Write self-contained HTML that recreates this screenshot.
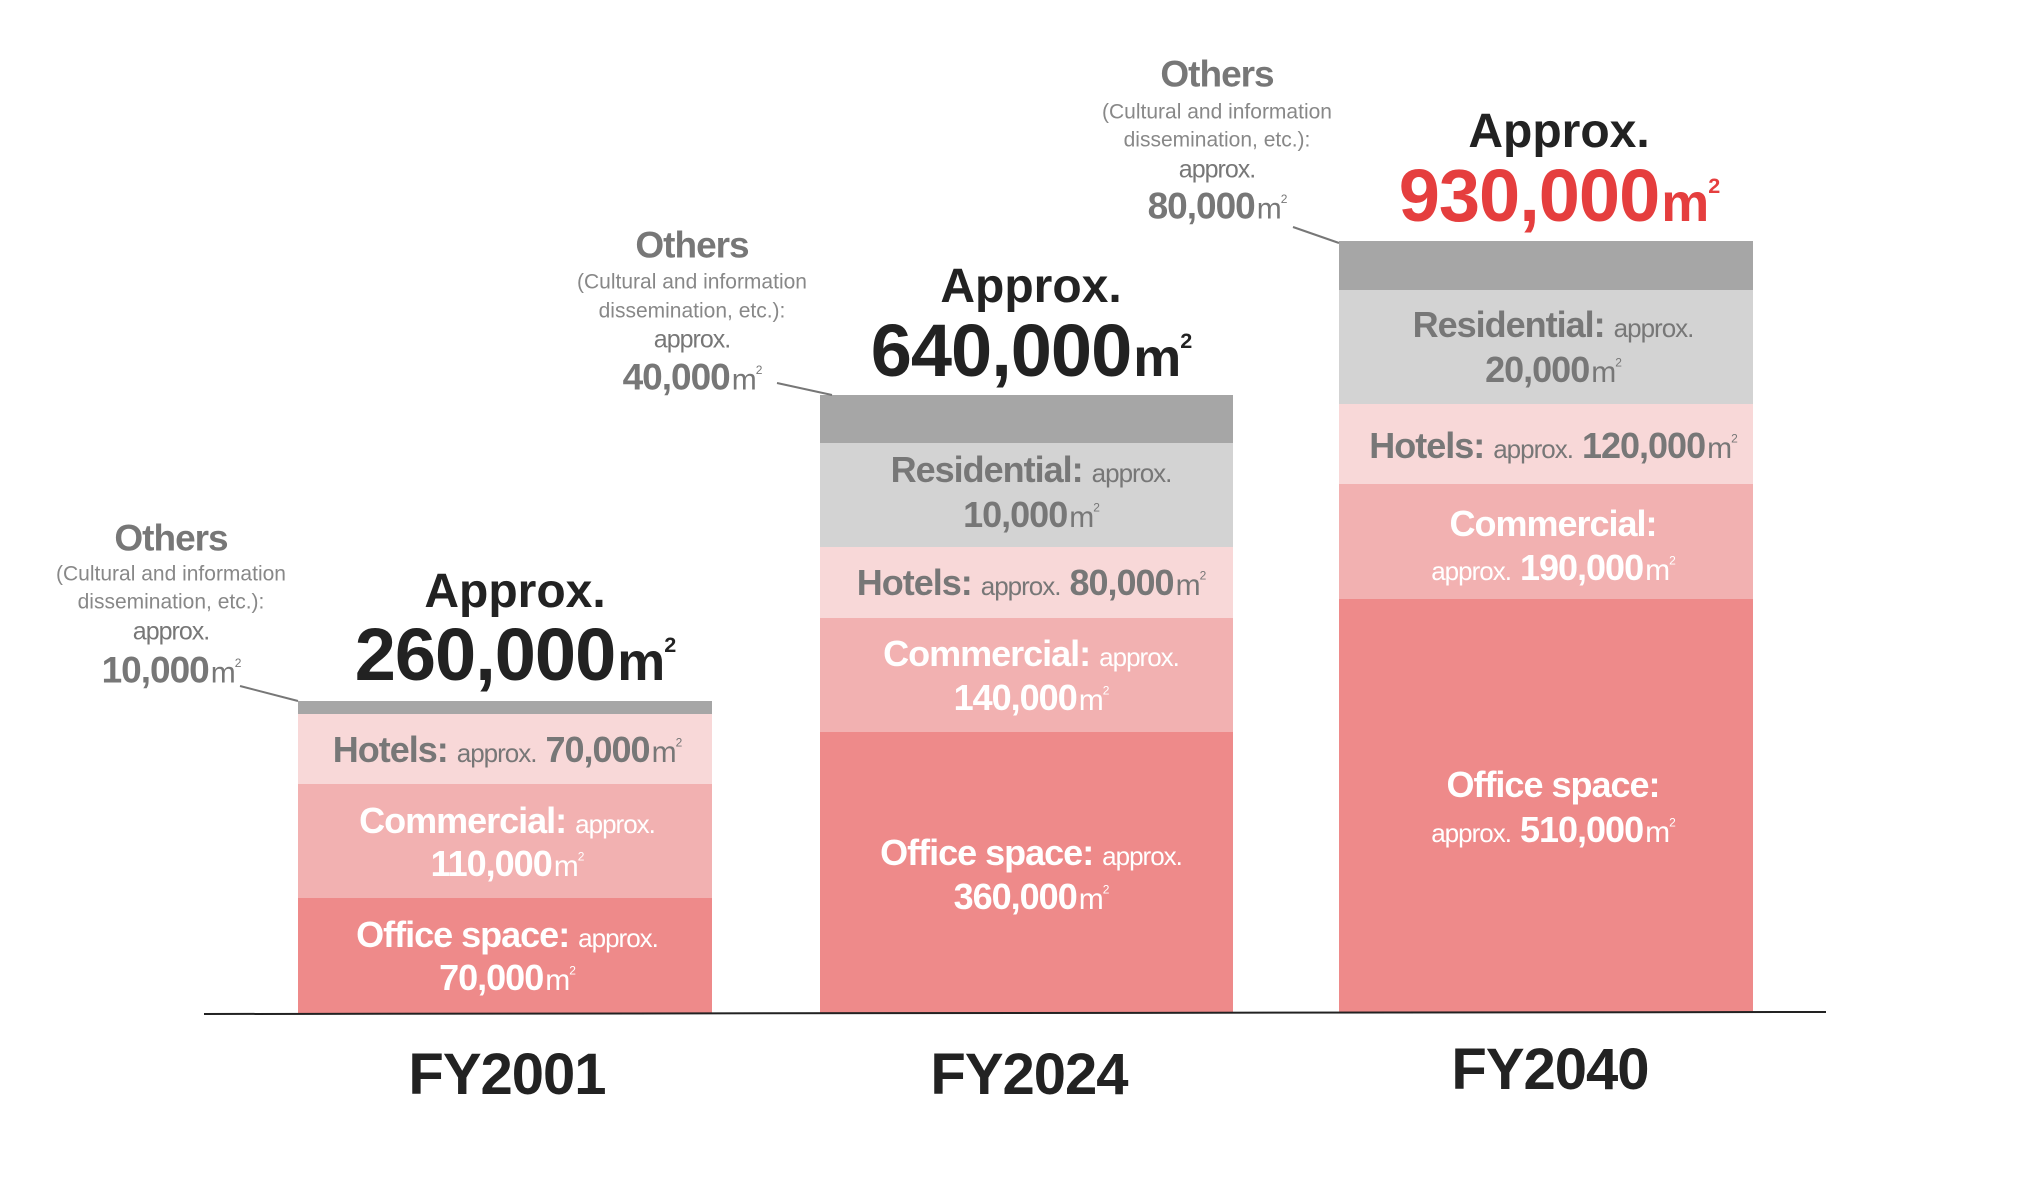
<!DOCTYPE html>
<html><head><meta charset="utf-8">
<style>
html,body{margin:0;padding:0;background:#fff;}
body{width:2038px;height:1199px;position:relative;overflow:hidden;font-family:"Liberation Sans",sans-serif;}
.b{position:absolute;}
.t{position:absolute;transform:translate(-50%,-50%);white-space:nowrap;text-align:center;line-height:1;letter-spacing:-1px;}
.g{color:#777;}
.w{color:#fff;}
.bo{font-weight:bold;}
.ap{font-weight:normal;font-size:26px;}
.u{font-weight:normal;margin-left:2px;}
sup{font-size:40%;vertical-align:1.3em;line-height:0;}
.lab{font-size:36px;font-weight:bold;}
.sm{font-size:21px;color:#888;letter-spacing:0;}
</style></head><body>
<!-- bars -->
<div class="b" style="left:298px;top:701px;width:414px;height:13px;background:#a6a6a6"></div>
<div class="b" style="left:298px;top:714px;width:414px;height:70px;background:#f8d8d8"></div>
<div class="b" style="left:298px;top:784px;width:414px;height:114px;background:#f2b1b1"></div>
<div class="b" style="left:298px;top:898px;width:414px;height:115px;background:#ee8a8a"></div>

<div class="b" style="left:820px;top:395px;width:413px;height:48px;background:#a6a6a6"></div>
<div class="b" style="left:820px;top:443px;width:413px;height:104px;background:#d3d3d3"></div>
<div class="b" style="left:820px;top:547px;width:413px;height:71px;background:#f8d8d8"></div>
<div class="b" style="left:820px;top:618px;width:413px;height:114px;background:#f2b1b1"></div>
<div class="b" style="left:820px;top:732px;width:413px;height:281px;background:#ee8a8a"></div>

<div class="b" style="left:1339px;top:241px;width:414px;height:49px;background:#a6a6a6"></div>
<div class="b" style="left:1339px;top:290px;width:414px;height:114px;background:#d3d3d3"></div>
<div class="b" style="left:1339px;top:404px;width:414px;height:80px;background:#f8d8d8"></div>
<div class="b" style="left:1339px;top:484px;width:414px;height:115px;background:#f2b1b1"></div>
<div class="b" style="left:1339px;top:599px;width:414px;height:413px;background:#ee8a8a"></div>

<svg class="b" style="left:0;top:0" width="2038" height="1199">
<line x1="204" y1="1014" x2="1826" y2="1012" stroke="#222" stroke-width="2"/>
<line x1="240" y1="686" x2="298" y2="701" stroke="#777" stroke-width="2"/>
<line x1="777" y1="383" x2="832" y2="395" stroke="#777" stroke-width="2"/>
<line x1="1293" y1="227" x2="1339" y2="243" stroke="#777" stroke-width="2"/>
</svg>

<!-- Others labels -->
<div class="t g bo" style="left:171px;top:538px;font-size:37px;">Others</div>
<div class="t sm" style="left:171px;top:574px;">(Cultural and information</div>
<div class="t sm" style="left:171px;top:602px;">dissemination, etc.):</div>
<div class="t g" style="left:171px;top:632px;font-size:25px;">approx.</div>
<div class="t g bo" style="left:171px;top:670px;font-size:37px;">10,000<span class="u" style="font-size:30px">m<sup>2</sup></span></div>

<div class="t g bo" style="left:692px;top:245px;font-size:37px;">Others</div>
<div class="t sm" style="left:692px;top:282px;">(Cultural and information</div>
<div class="t sm" style="left:692px;top:311px;">dissemination, etc.):</div>
<div class="t g" style="left:692px;top:340px;font-size:25px;">approx.</div>
<div class="t g bo" style="left:692px;top:377px;font-size:37px;">40,000<span class="u" style="font-size:30px">m<sup>2</sup></span></div>

<div class="t g bo" style="left:1217px;top:74px;font-size:37px;">Others</div>
<div class="t sm" style="left:1217px;top:112px;">(Cultural and information</div>
<div class="t sm" style="left:1217px;top:140px;">dissemination, etc.):</div>
<div class="t g" style="left:1217px;top:170px;font-size:25px;">approx.</div>
<div class="t g bo" style="left:1217px;top:206px;font-size:37px;">80,000<span class="u" style="font-size:30px">m<sup>2</sup></span></div>

<!-- totals -->
<div class="t bo" style="left:515px;top:592px;font-size:48px;color:#222;letter-spacing:0;">Approx.</div>
<div class="t bo" style="left:515px;top:655px;font-size:74px;color:#222;">260,000<span style="font-size:54px;margin-left:2px">m<sup>2</sup></span></div>
<div class="t bo" style="left:1031px;top:287px;font-size:48px;color:#222;letter-spacing:0;">Approx.</div>
<div class="t bo" style="left:1031px;top:351px;font-size:74px;color:#222;">640,000<span style="font-size:54px;margin-left:2px">m<sup>2</sup></span></div>
<div class="t bo" style="left:1559px;top:132px;font-size:48px;color:#222;letter-spacing:0;">Approx.</div>
<div class="t bo" style="left:1559px;top:196px;font-size:74px;color:#e53e3e;">930,000<span style="font-size:54px;margin-left:2px">m<sup>2</sup></span></div>

<!-- bar1 labels -->
<div class="t g lab" style="left:507px;top:750px;">Hotels: <span class="ap">approx.</span> 70,000<span class="u" style="font-size:30px">m<sup>2</sup></span></div>
<div class="t w lab" style="left:507px;top:821px;">Commercial: <span class="ap">approx.</span></div>
<div class="t w lab" style="left:507px;top:864px;">110,000<span class="u" style="font-size:30px">m<sup>2</sup></span></div>
<div class="t w lab" style="left:507px;top:935px;">Office space: <span class="ap">approx.</span></div>
<div class="t w lab" style="left:507px;top:978px;">70,000<span class="u" style="font-size:30px">m<sup>2</sup></span></div>

<!-- bar2 labels -->
<div class="t g lab" style="left:1031px;top:470px;">Residential: <span class="ap">approx.</span></div>
<div class="t g lab" style="left:1031px;top:515px;">10,000<span class="u" style="font-size:30px">m<sup>2</sup></span></div>
<div class="t g lab" style="left:1031px;top:583px;">Hotels: <span class="ap">approx.</span> 80,000<span class="u" style="font-size:30px">m<sup>2</sup></span></div>
<div class="t w lab" style="left:1031px;top:654px;">Commercial: <span class="ap">approx.</span></div>
<div class="t w lab" style="left:1031px;top:698px;">140,000<span class="u" style="font-size:30px">m<sup>2</sup></span></div>
<div class="t w lab" style="left:1031px;top:853px;">Office space: <span class="ap">approx.</span></div>
<div class="t w lab" style="left:1031px;top:897px;">360,000<span class="u" style="font-size:30px">m<sup>2</sup></span></div>

<!-- bar3 labels -->
<div class="t g lab" style="left:1553px;top:325px;">Residential: <span class="ap">approx.</span></div>
<div class="t g lab" style="left:1553px;top:370px;">20,000<span class="u" style="font-size:30px">m<sup>2</sup></span></div>
<div class="t g lab" style="left:1553px;top:446px;">Hotels: <span class="ap">approx.</span> 120,000<span class="u" style="font-size:30px">m<sup>2</sup></span></div>
<div class="t w lab" style="left:1553px;top:524px;">Commercial:</div>
<div class="t w lab" style="left:1553px;top:568px;"><span class="ap">approx.</span> 190,000<span class="u" style="font-size:30px">m<sup>2</sup></span></div>
<div class="t w lab" style="left:1553px;top:785px;">Office space:</div>
<div class="t w lab" style="left:1553px;top:830px;"><span class="ap">approx.</span> 510,000<span class="u" style="font-size:30px">m<sup>2</sup></span></div>

<!-- x labels -->
<div class="t bo" style="left:507px;top:1075px;font-size:58px;color:#222;">FY2001</div>
<div class="t bo" style="left:1029px;top:1075px;font-size:58px;color:#222;">FY2024</div>
<div class="t bo" style="left:1550px;top:1070px;font-size:58px;color:#222;">FY2040</div>
</body></html>
